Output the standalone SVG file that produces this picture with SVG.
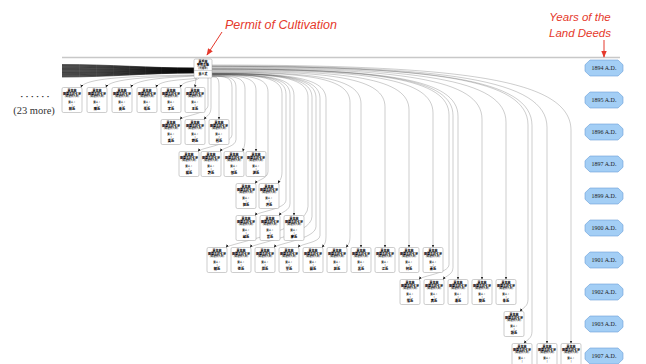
<svg xmlns="http://www.w3.org/2000/svg" xmlns:xlink="http://www.w3.org/1999/xlink" width="646" height="364" viewBox="0 0 646 364">
<style>
.e{fill:none;stroke:#000;stroke-opacity:0.33;stroke-width:0.6;marker-end:url(#ah)}
.b{fill:none;stroke:#000;stroke-opacity:0.85;stroke-width:0.65}
.card{fill:#fff;stroke:#9a9a9a;stroke-width:0.5}
.t1{font-family:"Noto Sans CJK TC","Noto Sans CJK SC",sans-serif;font-size:3px;font-weight:900;fill:#000;text-anchor:middle}
.t2{font-family:"Noto Sans CJK TC","Noto Sans CJK SC",sans-serif;font-size:2.5px;font-weight:bold;fill:#222;text-anchor:middle}
.nm{font-family:"Noto Sans CJK TC","Noto Sans CJK SC",sans-serif;font-size:3.2px;font-weight:900;fill:#000;text-anchor:middle}
.oct{fill:#a3cef5;stroke:#6c9fd6;stroke-width:0.6}
.yl{font-family:"Liberation Serif",serif;font-size:6px;fill:#222;text-anchor:middle}
.red{font-family:"Liberation Sans",Arial,sans-serif;font-style:italic;fill:#e5392c}
.ra{fill:none;stroke:#e5392c;stroke-width:1;marker-end:url(#rh)}
</style>
<defs>
<marker id="ah" viewBox="0 0 6 6" refX="5.5" refY="3" markerWidth="3.2" markerHeight="3.2" markerUnits="userSpaceOnUse" orient="auto"><path d="M0,0.5 L6,3 L0,5.5 z" fill="#222"/></marker>
<marker id="rh" viewBox="0 0 10 10" refX="9" refY="5" markerWidth="7" markerHeight="7" markerUnits="userSpaceOnUse" orient="auto"><path d="M0,1 L10,5 L0,9 z" fill="#e5392c"/></marker>
<g id="card">
<rect class="card" x="0" y="0" width="20" height="25" rx="1.5"/>
<text class="t1" x="10" y="4">業主林</text>
<text class="t1" x="10" y="7">田園壹段七分</text>
<text class="t2" x="10" y="9.8">(明治廿八年)</text>
<text class="t2" x="10" y="15.5">賣人：</text>
<text class="t2" x="10" y="18.5">|</text>
</g>
<polygon id="oct" class="oct" points="-14,-8 14,-8 19,-3.2 19,3.2 14,8 -14,8 -19,3.2 -19,-3.2"/>
</defs>
<rect x="0" y="0" width="646" height="364" fill="#fff"/>

<g id="annotations">
<line x1="62" y1="57.5" x2="620" y2="57.5" stroke="#c8c8c8" stroke-width="1.5"/>
<text class="red" x="225" y="28.5" font-size="12.5">Permit of Cultivation</text>
<path class="ra" d="M222,32 L207,55"/>
<text class="red" x="580" y="20.5" font-size="11.5" text-anchor="middle">Years of the</text>
<text class="red" x="580" y="36.5" font-size="11.5" text-anchor="middle">Land Deeds</text>
<path class="ra" d="M604,40 L604,57"/>
<text x="35" y="99" font-family="Liberation Serif,serif" font-size="9" font-weight="bold" fill="#333" text-anchor="middle">· · · · · ·</text>
<text x="34" y="113.5" font-family="Liberation Serif,serif" font-size="10.5" fill="#333" text-anchor="middle">(23 more)</text>
</g>

<g id="connectors">
<g id="bundle">
<path class="b" d="M194,68 C150,68 110,64.5 62,64.5"/>
<path class="b" d="M194,68.2 C150,68.2 110,65.1 62,65.1"/>
<path class="b" d="M194,68.5 C150,68.5 110,65.6 62,65.6"/>
<path class="b" d="M194,68.7 C150,68.7 110,66.2 62,66.2"/>
<path class="b" d="M194,68.9 C150,68.9 110,66.8 62,66.8"/>
<path class="b" d="M194,69.1 C150,69.1 110,67.3 62,67.3"/>
<path class="b" d="M194,69.4 C150,69.4 110,67.9 62,67.9"/>
<path class="b" d="M194,69.6 C150,69.6 110,68.5 62,68.5"/>
<path class="b" d="M194,69.8 C150,69.8 110,69.1 62,69.1"/>
<path class="b" d="M194,70 C150,70 110,69.6 62,69.6"/>
<path class="b" d="M194,70.3 C150,70.3 110,70.2 62,70.2"/>
<path class="b" d="M194,70.5 C150,70.5 110,70.8 62,70.8"/>
<path class="b" d="M194,70.7 C150,70.7 110,71.3 62,71.3"/>
<path class="b" d="M194,71 C150,71 110,71.9 62,71.9"/>
<path class="b" d="M194,71.2 C150,71.2 110,72.5 62,72.5"/>
<path class="b" d="M194,71.4 C150,71.4 110,73 62,73"/>
<path class="b" d="M194,71.6 C150,71.6 110,73.6 62,73.6"/>
<path class="b" d="M194,71.9 C150,71.9 110,74.2 62,74.2"/>
<path class="b" d="M194,72.1 C150,72.1 110,74.7 62,74.7"/>
<path class="b" d="M194,72.3 C150,72.3 110,75.3 62,75.3"/>
<path class="b" d="M194,72.5 C150,72.5 110,75.9 62,75.9"/>
<path class="b" d="M194,72.8 C150,72.8 110,76.4 62,76.4"/>
<path class="b" d="M194,73 C150,73 110,77 62,77"/>
</g>
<path class="e" d="M194,75 C131,76 84,78 81,87.5"/>
<path class="e" d="M194,75.5 C156,77 109,78 106,87.5"/>
<path class="e" d="M195,76 C181,77 134,78 131,87.5"/>
<path class="e" d="M197,78 C190,80 159,79 156,87.5"/>
<path class="e" d="M199,78 C196,82 183,80 180,87.5"/>
<path class="e" d="M196,78 L195,87.5"/>
<path class="e" d="M208,78 V105.5 C208,113.9 183,115.5 180,119.5"/>
<path class="e" d="M211,78 V107.5 C211,114.7 207,115.5 204,119.5"/>
<path class="e" d="M212,77 C216.9,77 219,77.3 219,86 V119.5"/>
<path class="e" d="M212,76.3 C226,76.3 232,77.1 232,87.5 V134.5 C232,144.7 201,147.5 198,151.5"/>
<path class="e" d="M212,76.2 C228.8,76.2 236,77.2 236,88 V139.5 C236,146.7 223,147.5 220,151.5"/>
<path class="e" d="M212,75.9 C235.1,75.9 245,77.2 245,89.2 V139.5 C245,146 243.5,148 243,151.5"/>
<path class="e" d="M212,75.5 C242.8,75.5 256,77.3 256,90.5 V151.5"/>
<path class="e" d="M212,75.1 C251.2,75.1 268,77.3 268,92.1 V171.5 C268,178.7 258,179.5 255,183.5"/>
<path class="e" d="M212,74.7 C261,74.7 282,77.5 282,93.9 V171.5 C282,178.7 280,179.5 278,183.5"/>
<path class="e" d="M212,74.5 C263.8,74.5 286,77.5 286,94.3 V200 C286,209.3 258,211.5 255,215.5"/>
<path class="e" d="M212,74.4 C266.6,74.4 290,77.5 290,94.9 V203.5 C290,210.7 282,211.5 279,215.5"/>
<path class="e" d="M212,74.3 C269.4,74.3 294,77.6 294,95.4 V215.5"/>
<path class="e" d="M212,73.8 C279.2,73.8 308,77.6 308,97.2 V206.5 C308,231 229,243.5 226,247.5"/>
<path class="e" d="M212,73.7 C282,73.7 312,77.7 312,97.7 V216.5 C312,235 253,243.5 250,247.5"/>
<path class="e" d="M212,73.5 C284.8,73.5 316,77.7 316,98.1 V226.5 C316,239 277,243.5 274,247.5"/>
<path class="e" d="M212,73.4 C287.6,73.4 320,77.7 320,98.7 V235.5 C320,242.7 301,243.5 298,247.5"/>
<path class="e" d="M212,73.2 C291.8,73.2 326,77.8 326,99.4 V235.5 C326,242.7 325,243.5 322,247.5"/>
<path class="e" d="M212,72.4 C308.6,72.4 350,77.9 350,102.5 V235.5 C350,242.7 349,243.5 346,247.5"/>
<path class="e" d="M212,72 C316.3,72 361,78 361,103.8 V247.5"/>
<path class="e" d="M212,71.2 C333.1,71.2 385,78.1 385,106.9 V247.5"/>
<path class="e" d="M212,70.4 C349.9,70.4 409,78.3 409,109.9 V247.5"/>
<path class="e" d="M212,69.6 C366.7,69.6 433,78.4 433,113 V247.5"/>
<path class="e" d="M212,69.1 C377.9,69.1 449,78.6 449,115 V264.5 C449,273.5 422,275.5 419,279.5"/>
<path class="e" d="M212,68.9 C380.7,68.9 453,78.5 453,115.5 V267.5 C453,274.7 446,275.5 443,279.5"/>
<path class="e" d="M212,68.8 C384.2,68.8 458,78.6 458,116.2 V279.5"/>
<path class="e" d="M212,68 C401,68 482,78.8 482,119.2 V279.5"/>
<path class="e" d="M212,67.2 C417.8,67.2 506,79 506,122.2 V279.5"/>
<path class="e" d="M212,66.4 C433.2,66.4 528,79 528,125 V299.5 C528,306.7 523,307.5 520,311.5"/>
<path class="e" d="M212,66.3 C436,66.3 532,79.1 532,125.5 V331.5 C532,338.7 527,339.5 524,343.5"/>
<path class="e" d="M212,65.8 C446.5,65.8 547,79.2 547,127.4 V343.5"/>
<path class="e" d="M212,65 C463.3,65 571,79.4 571,130.4 V343.5"/>
</g>

<g id="root" transform="translate(194,59)">
<rect class="card" x="0" y="0" width="18" height="19" rx="1.5"/>
<text class="t1" x="9" y="4">業戶林</text>
<text class="t1" x="9" y="7">墾照壹紙</text>
<text class="t2" x="9" y="9.6">(光緒年)</text>
<line x1="0" y1="11.5" x2="18" y2="11.5" stroke="#9a9a9a" stroke-width="0.4"/>
<text class="t1" x="9" y="16">賣人丈</text>
</g>

<g id="n1-1" transform="translate(62,87.5)"><use href="#card"/><text class="nm" x="10" y="22.5">林氏</text></g>
<g id="n1-2" transform="translate(87,87.5)"><use href="#card"/><text class="nm" x="10" y="22.5">陳氏</text></g>
<g id="n1-3" transform="translate(112,87.5)"><use href="#card"/><text class="nm" x="10" y="22.5">黃氏</text></g>
<g id="n1-4" transform="translate(137,87.5)"><use href="#card"/><text class="nm" x="10" y="22.5">張氏</text></g>
<g id="n1-5" transform="translate(161,87.5)"><use href="#card"/><text class="nm" x="10" y="22.5">李氏</text></g>
<g id="n1-6" transform="translate(185,87.5)"><use href="#card"/><text class="nm" x="10" y="22.5">王氏</text></g>

<g id="n2-1" transform="translate(161,119.5)"><use href="#card"/><text class="nm" x="10" y="22.5">吳氏</text></g>
<g id="n2-2" transform="translate(185,119.5)"><use href="#card"/><text class="nm" x="10" y="22.5">劉氏</text></g>
<g id="n2-3" transform="translate(209,119.5)"><use href="#card"/><text class="nm" x="10" y="22.5">蔡氏</text></g>

<g id="n3-1" transform="translate(179,151.5)"><use href="#card"/><text class="nm" x="10" y="22.5">楊氏</text></g>
<g id="n3-2" transform="translate(201,151.5)"><use href="#card"/><text class="nm" x="10" y="22.5">許氏</text></g>
<g id="n3-3" transform="translate(224,151.5)"><use href="#card"/><text class="nm" x="10" y="22.5">鄭氏</text></g>
<g id="n3-4" transform="translate(246,151.5)"><use href="#card"/><text class="nm" x="10" y="22.5">謝氏</text></g>

<g id="n4-1" transform="translate(236,183.5)"><use href="#card"/><text class="nm" x="10" y="22.5">郭氏</text></g>
<g id="n4-2" transform="translate(259,183.5)"><use href="#card"/><text class="nm" x="10" y="22.5">洪氏</text></g>

<g id="n5-1" transform="translate(236,215.5)"><use href="#card"/><text class="nm" x="10" y="22.5">邱氏</text></g>
<g id="n5-2" transform="translate(260,215.5)"><use href="#card"/><text class="nm" x="10" y="22.5">曾氏</text></g>
<g id="n5-3" transform="translate(284,215.5)"><use href="#card"/><text class="nm" x="10" y="22.5">廖氏</text></g>

<g id="n6-1" transform="translate(207,247.5)"><use href="#card"/><text class="nm" x="10" y="22.5">賴氏</text></g>
<g id="n6-2" transform="translate(231,247.5)"><use href="#card"/><text class="nm" x="10" y="22.5">徐氏</text></g>
<g id="n6-3" transform="translate(255,247.5)"><use href="#card"/><text class="nm" x="10" y="22.5">周氏</text></g>
<g id="n6-4" transform="translate(279,247.5)"><use href="#card"/><text class="nm" x="10" y="22.5">葉氏</text></g>
<g id="n6-5" transform="translate(303,247.5)"><use href="#card"/><text class="nm" x="10" y="22.5">蘇氏</text></g>
<g id="n6-6" transform="translate(327,247.5)"><use href="#card"/><text class="nm" x="10" y="22.5">莊氏</text></g>
<g id="n6-7" transform="translate(351,247.5)"><use href="#card"/><text class="nm" x="10" y="22.5">呂氏</text></g>
<g id="n6-8" transform="translate(375,247.5)"><use href="#card"/><text class="nm" x="10" y="22.5">江氏</text></g>
<g id="n6-9" transform="translate(399,247.5)"><use href="#card"/><text class="nm" x="10" y="22.5">何氏</text></g>
<g id="n6-10" transform="translate(423,247.5)"><use href="#card"/><text class="nm" x="10" y="22.5">蕭氏</text></g>

<g id="n7-1" transform="translate(400,279.5)"><use href="#card"/><text class="nm" x="10" y="22.5">羅氏</text></g>
<g id="n7-2" transform="translate(424,279.5)"><use href="#card"/><text class="nm" x="10" y="22.5">高氏</text></g>
<g id="n7-3" transform="translate(448,279.5)"><use href="#card"/><text class="nm" x="10" y="22.5">潘氏</text></g>
<g id="n7-4" transform="translate(472,279.5)"><use href="#card"/><text class="nm" x="10" y="22.5">簡氏</text></g>
<g id="n7-5" transform="translate(496,279.5)"><use href="#card"/><text class="nm" x="10" y="22.5">朱氏</text></g>

<g id="n8-1" transform="translate(504,311.5)"><use href="#card"/><text class="nm" x="10" y="22.5">鍾氏</text></g>

<g id="n9-1" transform="translate(512,343.5)"><use href="#card"/></g>
<g id="n9-2" transform="translate(537,343.5)"><use href="#card"/></g>
<g id="n9-3" transform="translate(561,343.5)"><use href="#card"/></g>

<g id="y1894"><use href="#oct" x="604" y="68"/><text class="yl" x="604" y="70">1894 A.D.</text></g>
<g id="y1895"><use href="#oct" x="604" y="100"/><text class="yl" x="604" y="102">1895 A.D.</text></g>
<g id="y1896"><use href="#oct" x="604" y="132"/><text class="yl" x="604" y="134">1896 A.D.</text></g>
<g id="y1897"><use href="#oct" x="604" y="164"/><text class="yl" x="604" y="166">1897 A.D.</text></g>
<g id="y1899"><use href="#oct" x="604" y="196"/><text class="yl" x="604" y="198">1899 A.D.</text></g>
<g id="y1900"><use href="#oct" x="604" y="228"/><text class="yl" x="604" y="230">1900 A.D.</text></g>
<g id="y1901"><use href="#oct" x="604" y="260"/><text class="yl" x="604" y="262">1901 A.D.</text></g>
<g id="y1902"><use href="#oct" x="604" y="292"/><text class="yl" x="604" y="294">1902 A.D.</text></g>
<g id="y1903"><use href="#oct" x="604" y="324"/><text class="yl" x="604" y="326">1903 A.D.</text></g>
<g id="y1907"><use href="#oct" x="604" y="356"/><text class="yl" x="604" y="358">1907 A.D.</text></g>
</svg>
